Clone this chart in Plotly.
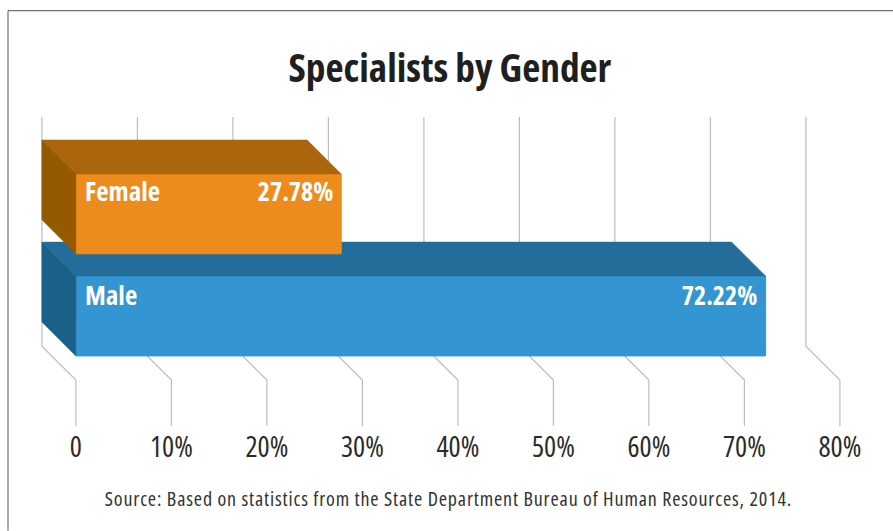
import plotly.graph_objects as go

# Data
categories = ["Female", "Male"]
values = [27.78, 72.22]
value_labels = ["27.78%", "72.22%"]
tick_values = [0, 10, 20, 30, 40, 50, 60, 70, 80]
tick_labels = ["0", "10%", "20%", "30%", "40%", "50%", "60%", "70%", "80%"]
title_text = "Specialists by Gender"
source_text = "Source: Based on statistics from the State Department Bureau of Human Resources, 2014."

# Styling / geometry
W, H = 893, 531
FONT = "Open Sans"
PX_PER_X = 9.55
PX_PER_Y = 102.3
X0_PX = 75.9
TOP_PX, BOTTOM_PX = 116.5, 426
MALE_PX = 315.8
DEPTH = 34
dx, dy = DEPTH / PX_PER_X, DEPTH / PX_PER_Y
bar_h = 80 / PX_PER_Y
x_range = [-X0_PX / PX_PER_X, (W - X0_PX) / PX_PER_X]
def y_of(px):
    return (MALE_PX - px) / PX_PER_Y
def paper_y(px):
    return (BOTTOM_PX - px) / (BOTTOM_PX - TOP_PX)
y_range = [y_of(BOTTOM_PX), y_of(TOP_PX)]
y_pos = {"Male": 0, "Female": 1}
label_shift = {"Male": 21, "Female": 23}
colors = {
    "Female": dict(front="#ED8B1C", top="#AB660B", side="#955A00"),
    "Male": dict(front="#3395D1", top="#246C99", side="#1A6189"),
}

fig = go.Figure()

for t in tick_values:
    fig.add_trace(go.Scatter(
        x=[t - dx, t - dx, t, t],
        y=[y_of(TOP_PX), y_of(346), y_of(380), y_of(BOTTOM_PX)],
        mode="lines", line=dict(color="#BDBDBD", width=1.2),
        hoverinfo="skip", showlegend=False, xaxis="x", yaxis="y",
    ))

for name, val, yref in [("Male", values[1], "y2"), ("Female", values[0], "y3")]:
    yc = y_pos[name]
    ft, fb = yc + bar_h / 2, yc - bar_h / 2
    c = colors[name]
    fig.add_trace(go.Bar(
        x=[val], y=[yc], orientation="h", width=bar_h, name=name,
        marker=dict(color=c["front"], line=dict(color=c["front"], width=1)),
        showlegend=False, xaxis="x", yaxis=yref,
    ))
    fig.add_trace(go.Scatter(
        x=[0, -dx, val - dx, val, 0], y=[ft, ft + dy, ft + dy, ft, ft],
        mode="lines", fill="toself", fillcolor=c["top"], line=dict(color=c["top"], width=0.5),
        hoverinfo="skip", showlegend=False, xaxis="x", yaxis=yref,
    ))
    fig.add_trace(go.Scatter(
        x=[0, -dx, -dx, 0, 0], y=[ft, ft + dy, fb + dy, fb, ft],
        mode="lines", fill="toself", fillcolor=c["side"], line=dict(color=c["side"], width=0.5),
        hoverinfo="skip", showlegend=False, xaxis="x", yaxis=yref,
    ))

annotations = []
for name, val, lab in zip(categories, values, value_labels):
    yc = y_pos[name]
    annotations.append(dict(
        x=0, y=yc, xref="x", yref="y", text=f"<b>{name}</b>", showarrow=False,
        xanchor="left", align="left", yanchor="middle", xshift=7, yshift=label_shift[name],
        font=dict(family=FONT, size=27, color="white"),
    ))
    annotations.append(dict(
        x=val, y=yc, xref="x", yref="y", text=f"<b>{lab}</b>", showarrow=False,
        xanchor="right", align="right", yanchor="middle", xshift=-6.5, yshift=label_shift[name],
        font=dict(family=FONT, size=26, color="white"),
    ))
annotations.append(dict(
    x=450 / W, y=paper_y(66.5), xref="paper", yref="paper", yanchor="middle", xanchor="center",
    text=f"<b>{title_text}</b>", showarrow=False,
    font=dict(family=FONT, size=39.4, color="#1F1F1F"),
))
annotations.append(dict(
    x=448 / W, y=paper_y(499), xref="paper", yref="paper", yanchor="middle", xanchor="center",
    text=source_text, showarrow=False,
    font=dict(family=FONT, size=20, color="#333333"),
))

shapes = [
    dict(type="line", xref="paper", yref="paper", x0=8 / W, x1=8 / W, y0=paper_y(H), y1=paper_y(10),
         line=dict(color="#707070", width=1.2)),
    dict(type="line", xref="paper", yref="paper", x0=8 / W, x1=1, y0=paper_y(10), y1=paper_y(10),
         line=dict(color="#707070", width=1.2)),
]

hidden_y = dict(range=y_range, visible=False, fixedrange=True)
fig.update_layout(
    width=W, height=H, autosize=False,
    paper_bgcolor="white", plot_bgcolor="white",
    margin=dict(l=0, r=0, t=TOP_PX, b=H - BOTTOM_PX, pad=0),
    barmode="overlay", showlegend=False,
    annotations=annotations, shapes=shapes,
    xaxis=dict(
        range=x_range, tickmode="array", tickvals=tick_values, ticktext=tick_labels,
        showgrid=False, zeroline=False, showline=False, ticks="", ticklabelstandoff=1,
        tickfont=dict(family=FONT, size=28.5, color="#2B2B2B"), fixedrange=True,
    ),
    yaxis=hidden_y,
    yaxis2=dict(overlaying="y", **hidden_y),
    yaxis3=dict(overlaying="y", **hidden_y),
)

post = """
document.body.style.margin = '0';
var st = document.createElement('style');
st.textContent = 'svg text { font-stretch: 75% !important; } '
  + '.annotation[data-index="5"] text { letter-spacing: 0.85px; }';
document.head.appendChild(st);
"""
fig.write_html("out.html", post_script=post, config={"displayModeBar": False})
